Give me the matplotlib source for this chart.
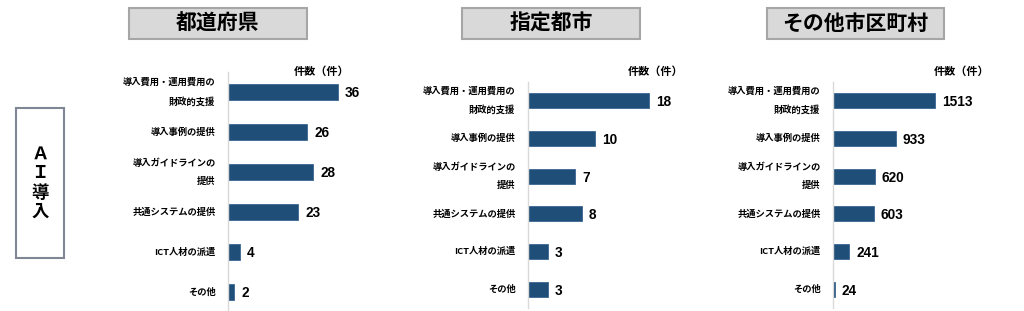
import matplotlib
matplotlib.use('Agg')
import matplotlib.pyplot as plt
from matplotlib.patches import Rectangle

categories = ['導入費用・運用費用の\n財政的支援', '導入事例の提供', '導入ガイドラインの\n提供',
              '共通システムの提供', 'ICT人材の派遣', 'その他']
prefectures = [36, 26, 28, 23, 4, 2]
designated_cities = [18, 10, 7, 8, 3, 3]
other_municipalities = [1513, 933, 620, 603, 241, 24]
panel_titles = ['都道府県', '指定都市', 'その他市区町村']
side_label = 'Ａ\nＩ\n導\n入'
unit_label = '件数（件）'

W, H = 1024, 311
BAR = '#1f4e79'
JP = ['Noto Sans CJK JP', 'DejaVu Sans']
NUM = ['Liberation Sans', 'Noto Sans CJK JP']

fig = plt.figure(figsize=(W / 100, H / 100), dpi=100)


def px_box(x0, y0, x1, y1):
    # pixel coords (top-left origin) -> figure fraction [l, b, w, h]
    return [x0 / W, 1 - y1 / H, (x1 - x0) / W, (y1 - y0) / H]


def add_rect(x0, y0, x1, y1, fc, ec, lw):
    l, b, w, h = px_box(x0, y0, x1, y1)
    fig.patches.append(Rectangle((l, b), w, h, transform=fig.transFigure,
                                 facecolor=fc, edgecolor=ec, linewidth=lw))


# side box
add_rect(16, 108, 64, 258, 'white', '#7f8794', 1.5)
fig.text(40 / W, 1 - 183 / H, side_label, ha='center', va='center', fontsize=12.5,
         fontweight='bold', family=JP, linespacing=1.1)

panels = [
    # values, title box px, axes px (x0, y0, x1, y1), xmax, unit label center x
    (prefectures, (129, 8, 307, 39), (228, 72, 358, 312), 42.6, 322),
    (designated_cities, (462, 8, 640, 39), (528, 82, 668, 308), 20.8, 656),
    (other_municipalities, (767, 8, 944, 39), (833, 82, 973, 308), 2077, 962),
]

for (vals, tbox, abox, xmax, ux), title in zip(panels, panel_titles):
    add_rect(*tbox, '#d9d9d9', '#a6a6a6', 1.5)
    fig.text((tbox[0] + tbox[2]) / 2 / W, 1 - (tbox[1] + tbox[3]) / 2 / H, title,
             ha='center', va='center', fontsize=15, fontweight='bold', family=JP)
    fig.text(ux / W, 1 - 71 / H, unit_label, ha='center', va='center', fontsize=8,
             fontweight='bold', family=JP)

    ax = fig.add_axes(px_box(*abox))
    ypos = list(range(len(categories)))
    ax.barh(ypos, vals, height=0.4, color=BAR, edgecolor='#3b6590', linewidth=0.6)
    for y, v in zip(ypos, vals):
        ax.annotate(str(v), (v, y), xytext=(5, -1), textcoords='offset points',
                    ha='left', va='center', fontsize=9.8, fontweight='bold', family=NUM)
    ax.set_xlim(0, xmax)
    ax.set_ylim(len(categories) - 0.5, -0.5)
    ax.set_yticks(ypos)
    ax.set_yticklabels(categories, fontsize=6.7, fontweight='bold', family=JP,
                       linespacing=2.25, va='center')
    ax.tick_params(axis='y', length=0, pad=9)
    ax.set_xticks([])
    for s in ['top', 'right', 'bottom']:
        ax.spines[s].set_visible(False)
    ax.spines['left'].set_color('#d9d9d9')
    ax.spines['left'].set_linewidth(1.0)
    ax.patch.set_alpha(0)

fig.savefig('out.png', dpi=100)
